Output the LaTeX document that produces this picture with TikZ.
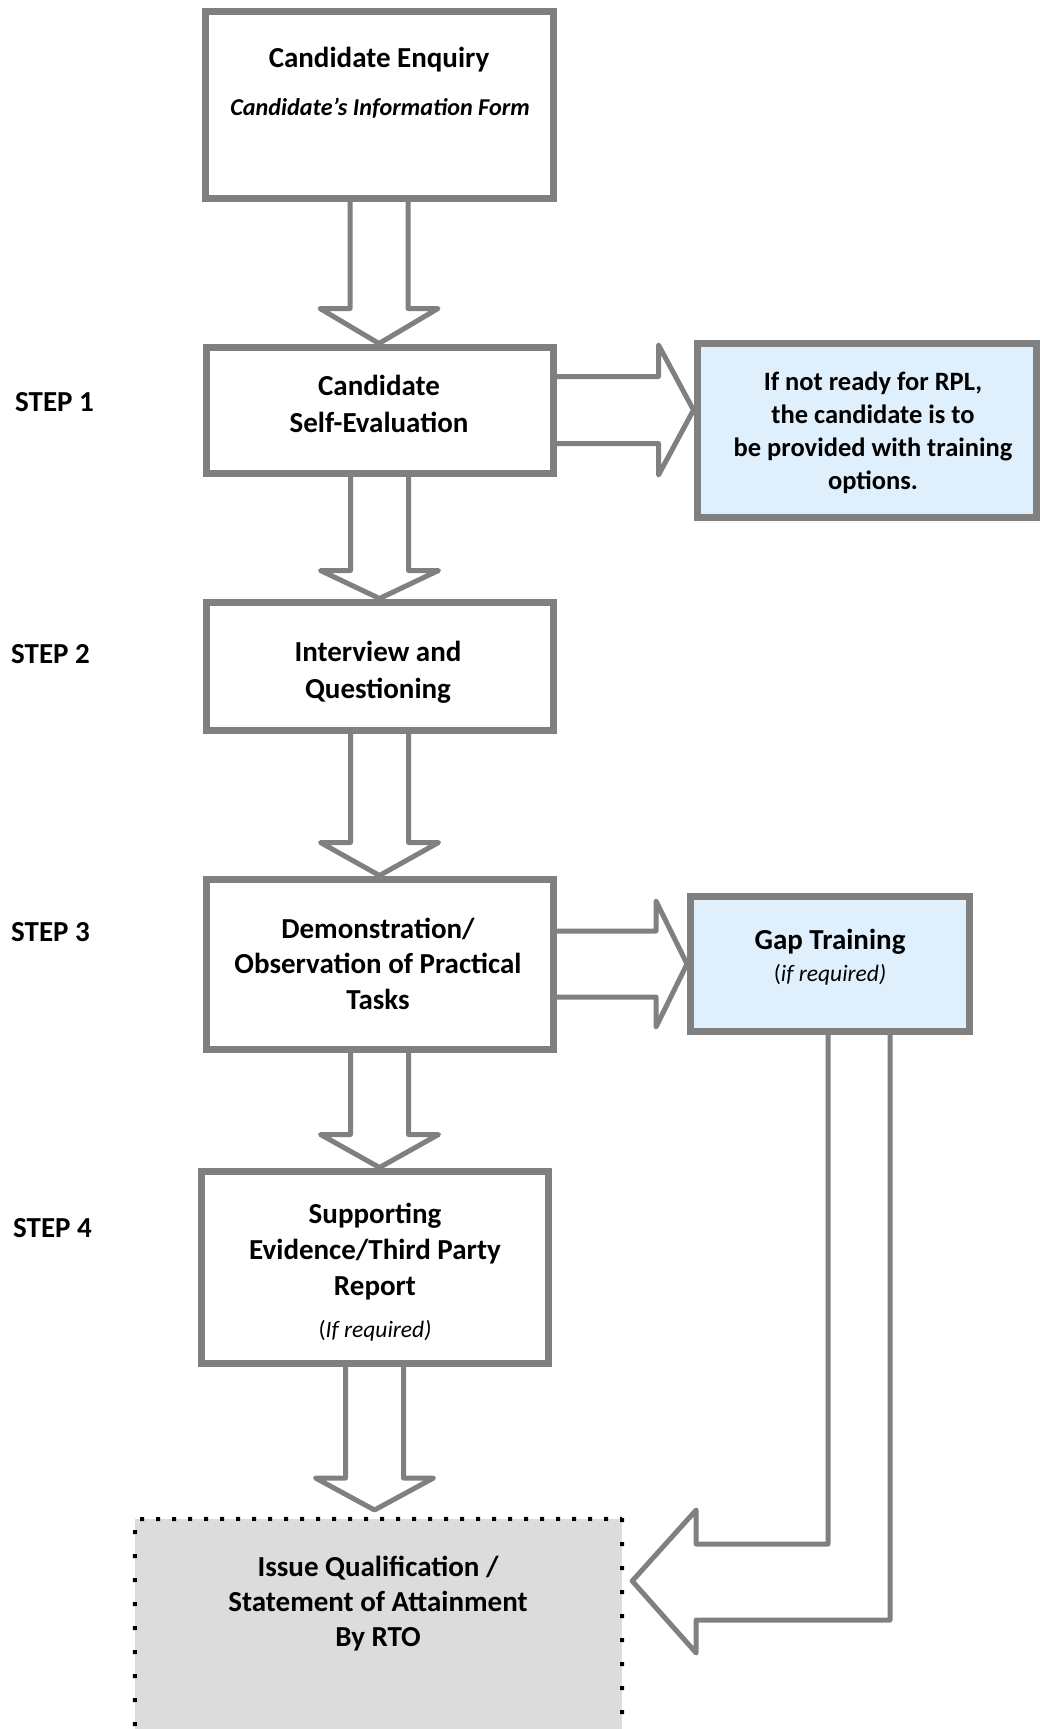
\documentclass[tikz,border=0pt]{standalone}
\usepackage{fontspec}
\setmainfont{Carlito}
\usetikzlibrary{calc}
\definecolor{bord}{HTML}{808080}
\definecolor{bluefill}{HTML}{DFF0FC}
\definecolor{greyfill}{HTML}{DCDCDC}
% down block arrow: source node, target point, head length
\newcommand\downarr[3]{%
  \draw[blk] let \p1=(#1.south), \p2=#2 in
    (\x1-29pt,\y1) -- (\x1-29pt,\y2+#3pt) -- (\x1-59pt,\y2+#3pt) -- (\x1,\y2)
    -- (\x1+59pt,\y2+#3pt) -- (\x1+29pt,\y2+#3pt) -- (\x1+29pt,\y1);}
% right block arrow: source node, target node, head length, shaft half, head half
\newcommand\rightarr[5]{%
  \draw[blk] let \p1=(#1.east), \p2=(#2.west) in
    (\x1,\y1+#4pt) -- (\x2-#3pt,\y1+#4pt) -- (\x2-#3pt,\y1+#5pt) -- (\x2,\y1)
    -- (\x2-#3pt,\y1-#5pt) -- (\x2-#3pt,\y1-#4pt) -- (\x1,\y1-#4pt);}
\begin{document}
\begin{tikzpicture}[x=1pt,y=-1pt,
  box/.style={rectangle, draw=bord, line width=7pt, fill=white, inner sep=0pt},
  blk/.style={draw=bord, line width=5pt, line join=round},
  main/.style={font=\fontsize{29}{35}\selectfont\bfseries, inner sep=0pt, anchor=base},
  subt/.style={font=\fontsize{24.2}{29}\selectfont\bfseries\itshape, inner sep=0pt, anchor=base},
  note/.style={font=\fontsize{26.5}{31}\selectfont\bfseries, inner sep=0pt, anchor=base},
  req/.style={font=\fontsize{23.5}{28}\selectfont, inner sep=0pt, anchor=base},
  steplbl/.style={font=\fontsize{29}{35}\selectfont\bfseries, inner sep=0pt, anchor=base west},
  dotline/.style={draw=black, line width=4pt, line cap=butt}]
\useasboundingbox[fill=white] (0,0) rectangle (1040,1729);

% boxes
\node[box, minimum width=348pt, minimum height=187pt] (b1) at (379,104.5) {};
\node[box, minimum width=347pt, minimum height=126pt] (b2) at (379.5,410) {};
\node[box, minimum width=347pt, minimum height=128pt] (b3) at (379.5,666) {};
\node[box, minimum width=347pt, minimum height=170pt] (b4) at (379.5,964) {};
\node[box, minimum width=347pt, minimum height=192pt] (b5) at (374.5,1267) {};
\node[box, fill=bluefill, minimum width=339pt, minimum height=174pt] (blue) at (866.5,430) {};
\node[box, fill=bluefill, minimum width=279pt, minimum height=135pt] (gap) at (830,964) {};
\node[rectangle, fill=greyfill, inner sep=0pt, minimum width=487pt, minimum height=210pt] (iss) at (378.5,1624) {};

% dotted border of final box
\draw[dotline, dash pattern=on 4pt off 12pt] (140,1519) -- (iss.north east);
\draw[dotline, dash pattern=on 4pt off 20pt] (622,1518) -- (iss.south east);
\draw[dotline, dash pattern=on 4pt off 20pt] (135,1530) -- (iss.south west);

% block arrows
\coordinate (isstip) at (374.5,1510);
\downarr{b1}{(b2.north)}{35}
\downarr{b2}{(b3.north)}{28}
\downarr{b3}{(b4.north)}{33}
\downarr{b4}{(b5.north)}{33}
\downarr{b5}{(isstip)}{32}
\rightarr{b2}{blue}{35}{33.5}{65}
\rightarr{b4}{gap}{31}{33}{63}
\draw[blk] let \p1=(gap.south), \p2=(iss.east) in
  (\x1-2pt,\y1) -- (\x1-2pt,-1544pt) -- (\x2+74pt,-1544pt) -- (\x2+74pt,-1510pt)
  -- (\x2+10pt,-1581pt) -- (\x2+74pt,-1653pt) -- (\x2+74pt,-1620pt)
  -- (\x1+60pt,-1620pt) -- (\x1+60pt,\y1);

% texts
\node[main] (t1a) at (379,67) {Candidate Enquiry};
\node[subt] (t1b) at (380,115) {Candidate’s Information Form};
\node[main] (t2a) at (379,395) {Candidate};
\node[main] (t2b) at (379,432) {Self-Evaluation};
\node[main] (t3a) at (378,661) {Interview and};
\node[main] (t3b) at (378,698) {Questioning};
\node[main] (t4a) at (378,938) {Demonstration/};
\node[main] (t4b) at (378,973) {Observation of Practical};
\node[main] (t4c) at (378,1009) {Tasks};
\node[main] (t5a) at (375,1223) {Supporting};
\node[main] (t5b) at (375,1259) {Evidence/Third Party};
\node[main] (t5c) at (375,1295) {Report};
\node[req] (t5d) at (375,1337) {(\textit{If required)}};
\node[note] (n1) at (873,390) {If not ready for RPL,};
\node[note] (n2) at (873,423) {the candidate is to};
\node[note] (n3) at (873,456) {be provided with training};
\node[note] (n4) at (873,489) {options.};
\node[main] (g1) at (830,949) {Gap Training};
\node[req] (g2) at (830,981) {(\textit{if required)}};
\node[main] (i1) at (378,1576) {Issue Qualification /};
\node[main] (i2) at (378,1611) {Statement of Attainment};
\node[main] (i3) at (378,1646) {By RTO};
\node[steplbl] (s1) at (15,411) {STEP 1};
\node[steplbl] (s2) at (11,663) {STEP 2};
\node[steplbl] (s3) at (11,941) {STEP 3};
\node[steplbl] (s4) at (13,1237) {STEP 4};
\end{tikzpicture}
\end{document}
